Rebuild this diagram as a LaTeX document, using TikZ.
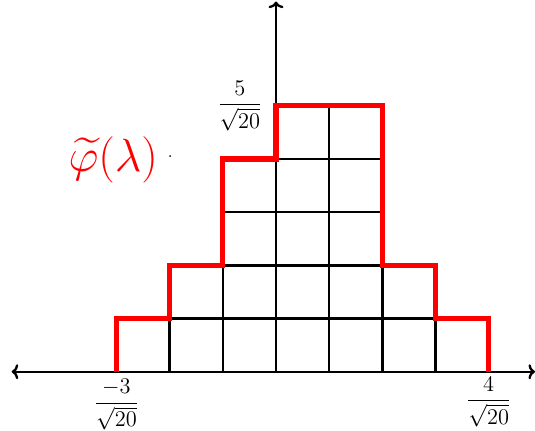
\documentclass[tikz,border=0pt]{standalone}
\usepackage{amsmath}
\usetikzlibrary{arrows.meta}
\tikzset{
  axisline/.style={line width=1.25pt, -{To[length=3.5pt,width=8pt]}},
  gridline/.style={line width=1.25pt, black},
  stairline/.style={line width=2.8pt, red, line join=miter},
  ticklabel/.style={inner sep=1pt, font=\fontsize{11.5}{14}\selectfont},
}
\begin{document}
\begin{tikzpicture}
\useasboundingbox (-5.19,-1.096) rectangle (4.87,6.99);
% grid clipped to the staircase region
\begin{scope}
\clip (-3,0) -- (-3,1) -- (-2,1) -- (-2,2) -- (-1,2) -- (-1,4) -- (0,4) -- (0,5) -- (2,5) -- (2,2) -- (3,2) -- (3,1) -- (4,1) -- (4,0) -- cycle;
\draw[gridline] (-3,0) grid (4,5);
\end{scope}
% axes
\coordinate (o) at (0,0);
\coordinate (xl) at (-4.97,0);
\coordinate (xr) at (4.87,0);
\coordinate (yt) at (0,6.96);
\draw[axisline] (o) -- (xl);
\draw[axisline] (o) -- (xr);
\draw[axisline] (o) -- (yt);
% staircase
\draw[stairline] (-3,0) -- (-3,1) -- (-2,1) -- (-2,2) -- (-1,2) -- (-1,4) -- (0,4) -- (0,5) -- (2,5) -- (2,2) -- (3,2) -- (3,1) -- (4,1) -- (4,0);
% labels
\node[ticklabel] (lm3) at (-3,-0.62) {$\dfrac{-3}{\sqrt{20}}$};
\node[ticklabel] (l4) at (4,-0.57) {$\dfrac{4}{\sqrt{20}}$};
\node[ticklabel] (l5) at (-0.68,5.0) {$\dfrac{5}{\sqrt{20}}$};
\node[text=red, inner sep=0pt] (phi) at (-3.06,3.98) {\fontsize{23}{28}\selectfont $\widetilde{\varphi}(\lambda)$};
\node[inner sep=0pt, font=\small] (dot) at (-1.99,4.04) {.};
\end{tikzpicture}
\end{document}
